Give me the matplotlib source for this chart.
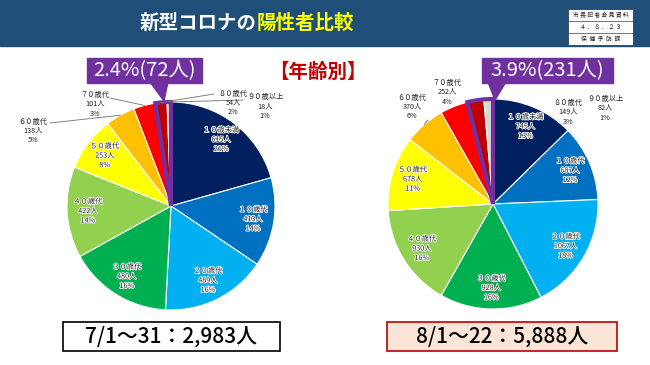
import matplotlib
matplotlib.use('Agg')
import matplotlib.pyplot as plt
from matplotlib.patches import Rectangle, Wedge, Polygon
import matplotlib.patheffects as pe
import numpy as np

plt.rcParams['font.family'] = ['Noto Sans CJK JP', 'DejaVu Sans']

# ---------------- data ----------------
age_groups = ['１０歳未満', '１０歳代', '２０歳代', '３０歳代', '４０歳代',
              '５０歳代', '６０歳代', '７０歳代', '８０歳代', '９０歳以上']
july_counts = [615, 413, 489, 480, 422, 253, 138, 101, 54, 18]
july_pcts = [21, 14, 16, 16, 14, 8, 5, 3, 2, 1]
aug_counts = [745, 687, 1067, 928, 930, 678, 370, 252, 149, 82]
aug_pcts = [13, 12, 18, 16, 16, 11, 6, 4, 3, 1]
july_label = '7/1～31：2,983人'
aug_label = '8/1～22：5,888人'
july_elderly = '2.4%(72人)'
aug_elderly = '3.9%(231人)'
slice_colors = ['#002060', '#0070C0', '#00B0F0', '#00B050', '#92D050',
                '#FFFF00', '#FFC000', '#FF0000', '#C00000', '#D9D9D9']
PURPLE = '#7030A0'

W, H = 650, 365
fig = plt.figure(figsize=(6.5, 3.65), dpi=100)
ax = fig.add_axes([0, 0, 1, 1])


def Y(y):
    return H - y


stroke = [pe.withStroke(linewidth=1.2, foreground='white')]


def draw_pie(cx, cy, r, counts, pcts, outside):
    wedges, _ = ax.pie(counts, colors=slice_colors, startangle=90,
                       counterclock=False, center=(cx, Y(cy)), radius=r,
                       wedgeprops=dict(edgecolor='white', linewidth=0.8))
    for i, w in enumerate(wedges):
        txt = f'{age_groups[i]}\n{counts[i]}人\n{pcts[i]}%'
        mid = np.deg2rad((w.theta1 + w.theta2) / 2)
        if i in outside:
            (tx, ty), line = outside[i]
            ax.text(tx, Y(ty), txt, ha='center', va='center', fontsize=5.2,
                    color='#222222', linespacing=1.25, zorder=6)
            if line is not None:
                ex = cx + r * np.cos(mid)
                ey = Y(cy) + r * np.sin(mid)
                ax.plot([ex, line[0]], [ey, Y(line[1])], color='#707070',
                        lw=0.6, zorder=5)
        else:
            px = cx + 0.8 * r * np.cos(mid)
            py = Y(cy) + 0.8 * r * np.sin(mid)
            ax.text(px, py, txt, ha='center', va='center', fontsize=5.2,
                    color='#222222', linespacing=1.25, path_effects=stroke,
                    zorder=6)
    t1 = min(wedges[8].theta1, wedges[9].theta1)
    t2 = max(wedges[8].theta2, wedges[9].theta2)
    ax.add_patch(Wedge((cx, Y(cy)), r, t1, t2, fill=False,
                       edgecolor=PURPLE, lw=3.0, zorder=4))


# header
ax.add_patch(Rectangle((0, Y(46)), W, 46, color='#1F4E79', zorder=1))
ax.text(257, Y(23), '新型コロナの', ha='right', va='center', fontsize=14,
        fontweight='bold', color='white', zorder=2)
ax.text(257, Y(23), '陽性者比較', ha='left', va='center', fontsize=14,
        fontweight='bold', color='#FFFF00', zorder=2)
ax.add_patch(Rectangle((568, Y(45)), 65, 36, facecolor='white',
                       edgecolor='#404040', lw=0.6, zorder=2))
for yy in (21, 33):
    ax.plot([568, 633], [Y(yy), Y(yy)], color='#404040', lw=0.5, zorder=3)
for txt, yy in [('市 長 記 者 会 見 資 料', 15), ('４ ． ８ ． ２ ３', 27),
                ('保  健  予  防  課', 39)]:
    ax.text(600.5, Y(yy), txt, ha='center', va='center', fontsize=4.2,
            color='#222222', zorder=3)

ax.text(318, Y(72), '【年齢別】', ha='center', va='center', fontsize=14,
        fontweight='bold', color='#C00000')

# pies
draw_pie(171, 206, 104, july_counts, july_pcts, {
    6: ((33, 131), (50, 123)),
    7: ((95, 104), (110, 98)),
    8: ((233, 103), (214, 94)),
    9: ((265, 107), (243, 100)),
})
draw_pie(493, 204, 105, aug_counts, aug_pcts, {
    6: ((412, 107), (428, 120)),
    7: ((447, 92), None),
    8: ((568, 112), None),
    9: ((605, 108), None),
})

# callouts
for (x0, x1, px0, px1, apx, apy, txt) in [
        (87, 202, 150, 168, 164, 101, july_elderly),
        (482, 613, 488, 506, 495, 100, aug_elderly)]:
    ax.add_patch(Rectangle((x0, Y(83)), x1 - x0, 25, color=PURPLE, zorder=7))
    ax.add_patch(Polygon([(px0, Y(82)), (px1, Y(82)), (apx, Y(apy))],
                         closed=True, color=PURPLE, zorder=7))
    ax.text((x0 + x1) / 2, Y(70.5), txt, ha='center', va='center',
            fontsize=14.5, color='white', zorder=8)

# period boxes
ax.add_patch(Rectangle((63, Y(351)), 217, 29, facecolor='white',
                       edgecolor='black', lw=1.2, zorder=2))
ax.text(171.5, Y(336.5), july_label, ha='center', va='center', fontsize=15,
        fontweight='medium', color='black', zorder=3)
ax.add_patch(Rectangle((387, Y(351)), 230, 29, facecolor='#FBE5D6',
                       edgecolor='#C00000', lw=1.2, zorder=2))
ax.text(502, Y(336.5), aug_label, ha='center', va='center', fontsize=15,
        fontweight='medium', color='black', zorder=3)

ax.set_xlim(0, W)
ax.set_ylim(0, H)
ax.set_aspect('auto')
ax.axis('off')
fig.savefig('out.png', dpi=100)
